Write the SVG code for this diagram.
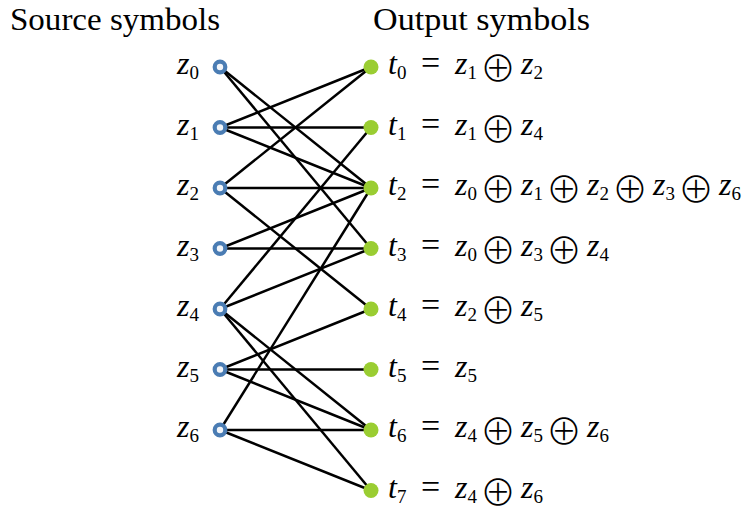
<svg xmlns="http://www.w3.org/2000/svg" width="745" height="507" viewBox="0 0 745 507">
<style>
text{font-family:"Liberation Serif","DejaVu Serif",serif;fill:#000}
.h{font-size:31px}
.v{font-size:32px;font-style:italic}
.o{font-size:34px}
.x{font-size:36px;font-family:"Noto Sans CJK JP","Noto Sans CJK SC",sans-serif;text-anchor:middle;font-weight:300}
.s{font-size:19px}
.e{stroke:#000;stroke-width:2.5;fill:none}
.src{fill:#f2f5f9;stroke:#4a7cb3;stroke-width:4.2}
.out{fill:#9acd32}
</style>
<rect width="745" height="507" fill="#fff"/>
<text class="h" x="10" y="30" textLength="210" lengthAdjust="spacingAndGlyphs">Source symbols</text>
<text class="h" x="373" y="30" textLength="217" lengthAdjust="spacingAndGlyphs">Output symbols</text>
<g id="connectors">
<line class="e" x1="220" y1="127.5" x2="371" y2="67"/>
<line class="e" x1="220" y1="188" x2="371" y2="67"/>
<line class="e" x1="220" y1="127.5" x2="371" y2="127.5"/>
<line class="e" x1="220" y1="309" x2="371" y2="127.5"/>
<line class="e" x1="220" y1="67" x2="371" y2="188"/>
<line class="e" x1="220" y1="127.5" x2="371" y2="188"/>
<line class="e" x1="220" y1="188" x2="371" y2="188"/>
<line class="e" x1="220" y1="248.5" x2="371" y2="188"/>
<line class="e" x1="220" y1="430" x2="371" y2="188"/>
<line class="e" x1="220" y1="67" x2="371" y2="248.5"/>
<line class="e" x1="220" y1="248.5" x2="371" y2="248.5"/>
<line class="e" x1="220" y1="309" x2="371" y2="248.5"/>
<line class="e" x1="220" y1="188" x2="371" y2="309"/>
<line class="e" x1="220" y1="369.5" x2="371" y2="309"/>
<line class="e" x1="220" y1="369.5" x2="371" y2="369.5"/>
<line class="e" x1="220" y1="309" x2="371" y2="430"/>
<line class="e" x1="220" y1="369.5" x2="371" y2="430"/>
<line class="e" x1="220" y1="430" x2="371" y2="430"/>
<line class="e" x1="220" y1="309" x2="371" y2="490.5"/>
<line class="e" x1="220" y1="430" x2="371" y2="490.5"/>
</g>
<g id="z0"><circle class="src" cx="220" cy="67" r="5.3"/><text x="177" y="74"><tspan class="v">z</tspan><tspan class="s" dy="5">0</tspan></text></g>
<g id="z1"><circle class="src" cx="220" cy="127.5" r="5.3"/><text x="177" y="134.5"><tspan class="v">z</tspan><tspan class="s" dy="5">1</tspan></text></g>
<g id="z2"><circle class="src" cx="220" cy="188" r="5.3"/><text x="177" y="195"><tspan class="v">z</tspan><tspan class="s" dy="5">2</tspan></text></g>
<g id="z3"><circle class="src" cx="220" cy="248.5" r="5.3"/><text x="177" y="255.5"><tspan class="v">z</tspan><tspan class="s" dy="5">3</tspan></text></g>
<g id="z4"><circle class="src" cx="220" cy="309" r="5.3"/><text x="177" y="316"><tspan class="v">z</tspan><tspan class="s" dy="5">4</tspan></text></g>
<g id="z5"><circle class="src" cx="220" cy="369.5" r="5.3"/><text x="177" y="376.5"><tspan class="v">z</tspan><tspan class="s" dy="5">5</tspan></text></g>
<g id="z6"><circle class="src" cx="220" cy="430" r="5.3"/><text x="177" y="437"><tspan class="v">z</tspan><tspan class="s" dy="5">6</tspan></text></g>

<g id="t0"><circle class="out" cx="371" cy="67" r="7.5"/>
<text x="388" y="74"><tspan class="v">t</tspan><tspan class="s" dy="5">0</tspan></text>
<text class="o" x="421" y="74">=</text>
<text x="455" y="74"><tspan class="v">z</tspan><tspan class="s" dy="5">1</tspan></text>
<text class="x" x="498" y="82">⊕</text>
<text x="521" y="74"><tspan class="v">z</tspan><tspan class="s" dy="5">2</tspan></text>
</g>
<g id="t1"><circle class="out" cx="371" cy="127.5" r="7.5"/>
<text x="388" y="134.5"><tspan class="v">t</tspan><tspan class="s" dy="5">1</tspan></text>
<text class="o" x="421" y="134.5">=</text>
<text x="455" y="134.5"><tspan class="v">z</tspan><tspan class="s" dy="5">1</tspan></text>
<text class="x" x="498" y="142.5">⊕</text>
<text x="521" y="134.5"><tspan class="v">z</tspan><tspan class="s" dy="5">4</tspan></text>
</g>
<g id="t2"><circle class="out" cx="371" cy="188" r="7.5"/>
<text x="388" y="195"><tspan class="v">t</tspan><tspan class="s" dy="5">2</tspan></text>
<text class="o" x="421" y="195">=</text>
<text x="455" y="195"><tspan class="v">z</tspan><tspan class="s" dy="5">0</tspan></text>
<text class="x" x="498" y="203">⊕</text>
<text x="521" y="195"><tspan class="v">z</tspan><tspan class="s" dy="5">1</tspan></text>
<text class="x" x="564" y="203">⊕</text>
<text x="587" y="195"><tspan class="v">z</tspan><tspan class="s" dy="5">2</tspan></text>
<text class="x" x="630" y="203">⊕</text>
<text x="653" y="195"><tspan class="v">z</tspan><tspan class="s" dy="5">3</tspan></text>
<text class="x" x="696" y="203">⊕</text>
<text x="719" y="195"><tspan class="v">z</tspan><tspan class="s" dy="5">6</tspan></text>
</g>
<g id="t3"><circle class="out" cx="371" cy="248.5" r="7.5"/>
<text x="388" y="255.5"><tspan class="v">t</tspan><tspan class="s" dy="5">3</tspan></text>
<text class="o" x="421" y="255.5">=</text>
<text x="455" y="255.5"><tspan class="v">z</tspan><tspan class="s" dy="5">0</tspan></text>
<text class="x" x="498" y="263.5">⊕</text>
<text x="521" y="255.5"><tspan class="v">z</tspan><tspan class="s" dy="5">3</tspan></text>
<text class="x" x="564" y="263.5">⊕</text>
<text x="587" y="255.5"><tspan class="v">z</tspan><tspan class="s" dy="5">4</tspan></text>
</g>
<g id="t4"><circle class="out" cx="371" cy="309" r="7.5"/>
<text x="388" y="316"><tspan class="v">t</tspan><tspan class="s" dy="5">4</tspan></text>
<text class="o" x="421" y="316">=</text>
<text x="455" y="316"><tspan class="v">z</tspan><tspan class="s" dy="5">2</tspan></text>
<text class="x" x="498" y="324">⊕</text>
<text x="521" y="316"><tspan class="v">z</tspan><tspan class="s" dy="5">5</tspan></text>
</g>
<g id="t5"><circle class="out" cx="371" cy="369.5" r="7.5"/>
<text x="388" y="376.5"><tspan class="v">t</tspan><tspan class="s" dy="5">5</tspan></text>
<text class="o" x="421" y="376.5">=</text>
<text x="455" y="376.5"><tspan class="v">z</tspan><tspan class="s" dy="5">5</tspan></text>
</g>
<g id="t6"><circle class="out" cx="371" cy="430" r="7.5"/>
<text x="388" y="437"><tspan class="v">t</tspan><tspan class="s" dy="5">6</tspan></text>
<text class="o" x="421" y="437">=</text>
<text x="455" y="437"><tspan class="v">z</tspan><tspan class="s" dy="5">4</tspan></text>
<text class="x" x="498" y="445">⊕</text>
<text x="521" y="437"><tspan class="v">z</tspan><tspan class="s" dy="5">5</tspan></text>
<text class="x" x="564" y="445">⊕</text>
<text x="587" y="437"><tspan class="v">z</tspan><tspan class="s" dy="5">6</tspan></text>
</g>
<g id="t7"><circle class="out" cx="371" cy="490.5" r="7.5"/>
<text x="388" y="497.5"><tspan class="v">t</tspan><tspan class="s" dy="5">7</tspan></text>
<text class="o" x="421" y="497.5">=</text>
<text x="455" y="497.5"><tspan class="v">z</tspan><tspan class="s" dy="5">4</tspan></text>
<text class="x" x="498" y="505.5">⊕</text>
<text x="521" y="497.5"><tspan class="v">z</tspan><tspan class="s" dy="5">6</tspan></text>
</g>
</svg>
